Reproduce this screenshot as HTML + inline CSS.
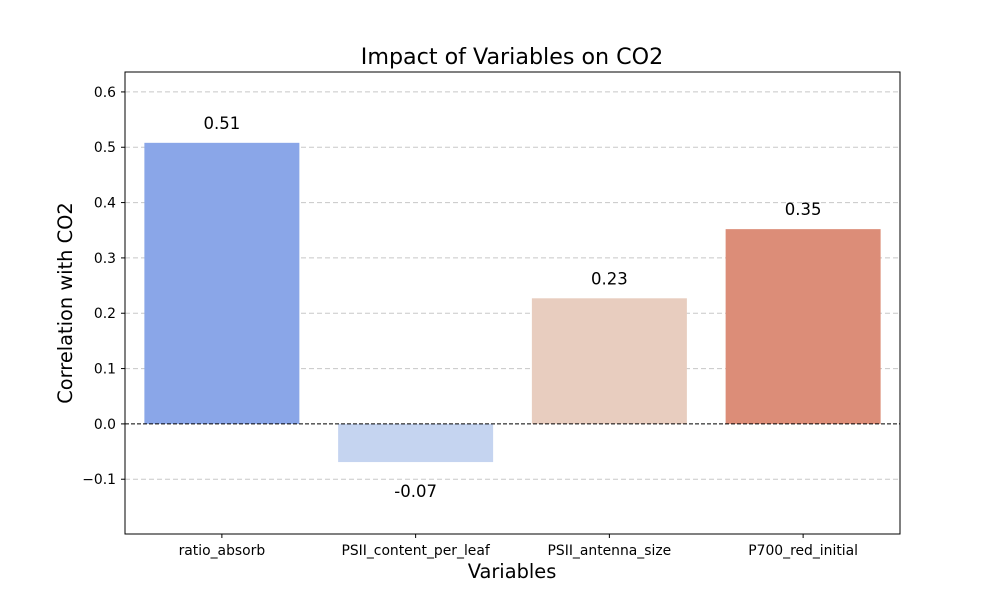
<!DOCTYPE html>
<html><head><meta charset="utf-8"><style>
body{margin:0;background:#fff;}
svg{display:block;font-family:"DejaVu Sans","Liberation Sans",sans-serif;}
</style></head><body>
<svg id="chart" width="1000" height="600" viewBox="0 0 1000 600">
<rect x="0" y="0" width="1000" height="600" fill="#fff"/>
<g id="grid"></g><g id="bars"></g><g id="labels"></g><g id="axes"></g>
<text x="512" y="64" text-anchor="middle" font-size="22.2">Impact of Variables on CO2</text>
<text x="512" y="578" text-anchor="middle" font-size="19.4">Variables</text>
<text x="72" y="303" text-anchor="middle" font-size="19.4" transform="rotate(-90 72 303)">Correlation with CO2</text>
</svg>
<script>
const categories=["ratio_absorb","PSII_content_per_leaf","PSII_antenna_size","P700_red_initial"];
const values=[0.508,-0.069,0.227,0.352];
const valueLabels=["0.51","-0.07","0.23","0.35"];
const colors=["#8aa6e8","#c5d4f0","#e8cdbf","#dc8d78"];
const yTicks=[-0.1,0.0,0.1,0.2,0.3,0.4,0.5,0.6];
const yTickLabels=["\u22120.1","0.0","0.1","0.2","0.3","0.4","0.5","0.6"];
const L=125,R=900,T=72,B=534,yMin=-0.199,yMax=0.636;
const NS="http://www.w3.org/2000/svg";
function y(v){return B-(v-yMin)/(yMax-yMin)*(B-T);}
function band(){return (R-L)/categories.length;}
function xc(i){return L+band()*(i+0.5);}
function mk(tag,attrs,parent,text){const e=document.createElementNS(NS,tag);for(const k in attrs)e.setAttribute(k,attrs[k]);if(text!==undefined)e.textContent=text;document.getElementById(parent).appendChild(e);return e;}
yTicks.forEach((t,i)=>{
  if(t!==0){const g=mk('line',{x1:L,x2:R,y1:y(t),y2:y(t),stroke:'#c8c8c8','stroke-dasharray':'5,3','stroke-width':1},'grid');
  
  }
  const tk=mk('line',{x1:L-4,x2:L,y1:y(t),y2:y(t),stroke:'#000'},'axes');
  
  
  const tl=mk('text',{x:L-9,y:y(t)+5,'text-anchor':'end','font-size':13.9},'axes',yTickLabels[i]);
  
  
});
const bw=band()*0.8;
values.forEach((v,i)=>{
  const y0=y(0),y1=y(v);
  const r=mk('rect',{x:xc(i)-bw/2,y:Math.min(y0,y1),width:bw,height:Math.abs(y1-y0),fill:colors[i]},'bars');
  
  
  const ly=v>=0?y1-14:y1+35;
  const t=mk('text',{x:xc(i),y:ly,'text-anchor':'middle','font-size':16.5},'labels',valueLabels[i]);
  
  
  const tk=mk('line',{x1:xc(i),x2:xc(i),y1:B,y2:B+4,stroke:'#000'},'axes');
  
  
  const xl=mk('text',{x:xc(i),y:B+21,'text-anchor':'middle','font-size':13.9},'axes',categories[i]);
  
  
});
const z=mk('line',{x1:L,x2:R,y1:y(0),y2:y(0),stroke:'#000','stroke-dasharray':'4,2','stroke-width':1},'axes');


const f=mk('rect',{x:L,y:T,width:R-L,height:B-T,fill:'none',stroke:'#000','stroke-width':1},'axes');


</script>
</body></html>
